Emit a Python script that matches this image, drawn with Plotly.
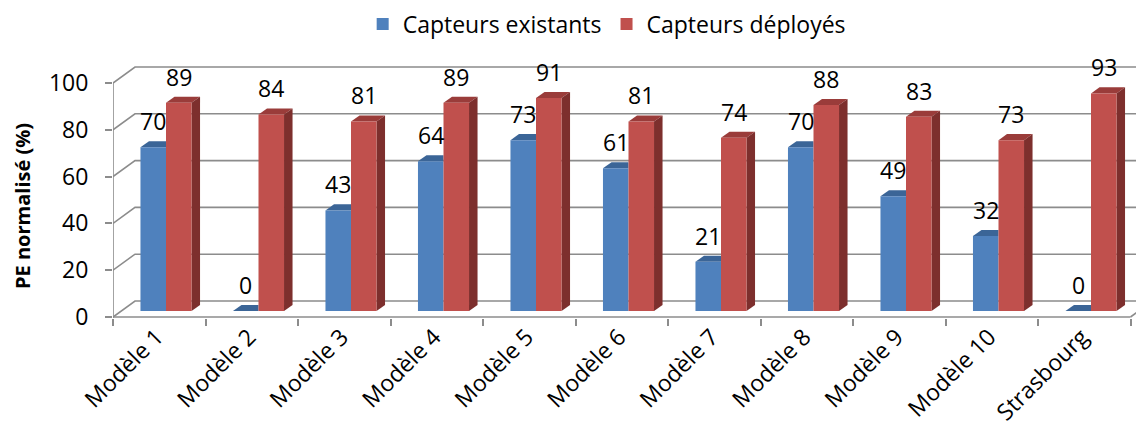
import plotly.graph_objects as go

categories = ["Modèle 1", "Modèle 2", "Modèle 3", "Modèle 4", "Modèle 5", "Modèle 6",
              "Modèle 7", "Modèle 8", "Modèle 9", "Modèle 10", "Strasbourg"]
existants = [70, 0, 43, 64, 73, 61, 21, 70, 49, 32, 0]
deployes = [89, 84, 81, 89, 91, 81, 74, 88, 83, 73, 93]
y_ticks = [0, 20, 40, 60, 80, 100]
series_names = ["Capteurs existants", "Capteurs déployés"]

FONT = "Open Sans"
FS = 23
BLUE, BLUE_TOP = "#4F81BD", "#3B6597"
RED, RED_TOP, RED_SIDE = "#C0504D", "#9A3C3A", "#7D2F2D"
GRID = "#8C8C8C"

n = len(categories)
idx = list(range(n))
W = 0.276          # bar width (category units)
DXB, DYB = 0.092, 2.6     # bar depth offset (x units, y units)
DXW, DYW = 0.238, 6.84    # wall depth offset (x units, y2 units)
XL = -0.573               # front-left edge
XR = XL + n               # front-right edge
LABEL_SHIFT = -0.1        # category label anchor shift

fig = go.Figure()
xb = [i - W / 2 for i in idx]
xr = [i + W / 2 for i in idx]
fig.add_trace(go.Bar(x=xb, y=existants, width=W, name=series_names[0],
                     marker=dict(color=BLUE, line=dict(width=0))))
fig.add_trace(go.Bar(x=xr, y=deployes, width=W, name=series_names[1],
                     marker=dict(color=RED, line=dict(width=0))))

shapes = []
# back wall grid lines with left diagonal connectors
for v in y_ticks:
    shapes.append(dict(type="path", xref="x", yref="y2", layer="below",
                       path=f"M {XL},{v} L {XL + DXW},{v + DYW} L {XR + DXW},{v + DYW}",
                       line=dict(color=GRID, width=1.6)))
# front floor edge and right floor edge
shapes.append(dict(type="line", xref="x", yref="y2", layer="below",
                   x0=XL, y0=0, x1=XR, y1=0, line=dict(color=GRID, width=1.6)))
shapes.append(dict(type="line", xref="x", yref="y2", layer="below",
                   x0=XR, y0=0, x1=XR + DXW, y1=DYW, line=dict(color=GRID, width=1.6)))
# front vertical axis line
shapes.append(dict(type="line", xref="x", yref="y2", layer="below",
                   x0=XL, y0=-2.6, x1=XL, y1=100, line=dict(color=GRID, width=1.6)))

# 3D faces of bars
for i in idx:
    v = existants[i]
    l, r = xb[i] - W / 2, xb[i] + W / 2
    shapes.append(dict(type="path", xref="x", yref="y", layer="below", line=dict(width=0),
                       fillcolor=BLUE_TOP,
                       path=f"M {l},{v} L {r},{v} L {r},{v + DYB} L {l + DXB},{v + DYB} Z"))
    v = deployes[i]
    l, r = xr[i] - W / 2, xr[i] + W / 2
    shapes.append(dict(type="path", xref="x", yref="y", layer="below", line=dict(width=0),
                       fillcolor=RED_TOP,
                       path=f"M {l},{v} L {r},{v} L {r + DXB},{v + DYB} L {l + DXB},{v + DYB} Z"))
    shapes.append(dict(type="path", xref="x", yref="y", layer="below", line=dict(width=0),
                       fillcolor=RED_SIDE,
                       path=f"M {r},0 L {r},{v} L {r + DXB},{v + DYB} L {r + DXB},{DYB} Z"))

annotations = []
for i in idx:
    for xs, vals in ((xb, existants), (xr, deployes)):
        annotations.append(dict(x=xs[i], y=vals[i], xref="x", yref="y", text=str(vals[i]),
                                showarrow=False, yshift=26,
                                font=dict(family=FONT, size=FS, color="#000000")))
annotations.append(dict(x=-0.0883, y=0.434, xref="paper", yref="paper",
                        xanchor="center", yanchor="middle",
                        text="<b>PE normalisé (%)</b>", textangle=-90, showarrow=False,
                        font=dict(family=FONT, size=20, color="#000000")))

fig.update_layout(
    width=1136, height=420,
    margin=dict(l=105, r=0, t=52, b=110, autoexpand=False),
    paper_bgcolor="white", plot_bgcolor="white",
    barmode="overlay",
    font=dict(family=FONT, size=FS, color="#000000"),
    showlegend=True,
    legend=dict(orientation="h", xref="container", yref="container",
                x=0.527, xanchor="center", y=0.962, yanchor="middle",
                font=dict(family=FONT, size=FS), itemsizing="constant"),
    xaxis=dict(range=[-0.573, 10.573], tickvals=[i + LABEL_SHIFT for i in idx],
               ticktext=categories,
               tickangle=-45, ticks="", showgrid=False, zeroline=False, showline=False,
               automargin=False, tickfont=dict(family=FONT, size=FS),
               minor=dict(tickvals=[XL + k for k in range(n + 1)], ticks="outside",
                          ticklen=7, tickcolor=GRID, tickwidth=1.6, showgrid=False)),
    yaxis=dict(range=[-3.0, 107.28], showticklabels=False, showgrid=False,
               zeroline=False, showline=False, ticks="", automargin=False),
    yaxis2=dict(range=[-0.427, 109.83], overlaying="y", side="left", anchor="x",
                tickvals=y_ticks, ticks="outside", ticklen=7, tickcolor=GRID, tickwidth=1.6,
                showgrid=False, zeroline=False, showline=False, ticklabelstandoff=12,
                automargin=False, tickfont=dict(family=FONT, size=FS)),
    shapes=shapes, annotations=annotations,
)
# invisible trace so yaxis2 is drawn
fig.add_trace(go.Scatter(x=[0], y=[0], yaxis="y2", mode="markers",
                         marker=dict(opacity=0), showlegend=False, hoverinfo="skip"))

fig.write_html("out.html")
